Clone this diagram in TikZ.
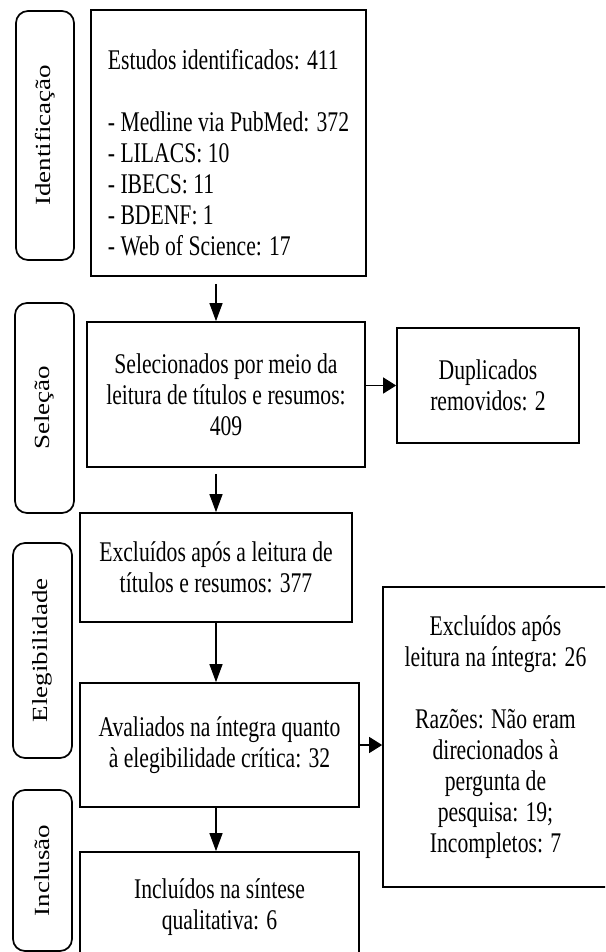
\documentclass[tikz,border=0pt]{standalone}
\usepackage{fontspec}
\setmainfont[FakeStretch=0.76]{Liberation Serif}
\newfontfamily\sidefont[FakeStretch=1.25]{Liberation Serif}
\usetikzlibrary{arrows.meta}
\tikzset{
	box/.style={draw, line width=1.7pt, align=center, inner sep=0pt, font=\fontsize{28.5}{31}\selectfont},
	sidebox/.style={draw, line width=1.7pt, rounded corners=12pt, rotate=90, inner sep=0pt, font=\sidefont\fontsize{21.6}{26}\selectfont},
	downarrow/.style={line width=1.2pt, -{Triangle[length=18pt,width=13pt]}},
	rightarrow/.style={line width=1.3pt, -{Triangle[length=13pt,width=16pt]}}
}

\begin{document}
\begin{tikzpicture}[x=1pt, y=-1pt]
			%%%%% START %%%%%
			\useasboundingbox (0,0) rectangle (605,952);
			\clip (0,0) rectangle (605,952);
			
			\node[sidebox, minimum width=249, minimum height=58] (ident) at (45,135.5) {Identificação};
			\node[box, align=left, minimum width=275, minimum height=266] (estudos) at (228.5,143) {\rule{0pt}{39pt}Estudos identificados: 411\\[31pt]- Medline via PubMed: 372\\- LILACS: 10\\- IBECS: 11\\- BDENF: 1\\- Web of Science: 17};
			
			\node[sidebox, minimum width=210, minimum height=59] (selside) at (44.5,408) {Seleção};
			\node[box, minimum width=278, minimum height=145] (selec) at (226,394.5) {Selecionados por meio da\\leitura de títulos e resumos:\\409};
			\node[box, minimum width=182, minimum height=115] (dupl) at (488,385.5) {Duplicados\\removidos: 2};
			
			\node[sidebox, minimum width=215, minimum height=59] (elegside) at (42.5,650.5) {Elegibilidade};
			\node[box, minimum width=272, minimum height=109] (exclA) at (216,567.5) {Excluídos após a leitura de\\títulos e resumos: 377};
			\node[box, minimum width=279, minimum height=124] (aval) at (219.5,745) {Avaliados na íntegra quanto\\à elegibilidade crítica: 32};
			\node[box, minimum width=225, minimum height=300] (exclB) at (495.5,737) {Excluídos após\\leitura na íntegra: 26\\[31pt]Razões: Não eram\\direcionados à\\pergunta de\\pesquisa: 19;\\Incompletos: 7};
			
			\node[sidebox, minimum width=161, minimum height=59] (inclside) at (42.5,870.5) {Inclusão};
			\node[box, minimum width=279, minimum height=110] (incl) at (219.5,907) {Incluídos na síntese\\qualitativa: 6};
			
			\draw[downarrow, shorten <=7pt] (estudos.south -| exclA.north) -- (selec.north -| exclA.north);
			\draw[downarrow, shorten <=6pt] (selec.south -| exclA.north) -- (exclA.north);
			\draw[downarrow] (exclA.south) -- (aval.north -| exclA.south);
			\draw[downarrow] (aval.south -| exclA.south) -- (incl.north -| exclA.south);
			
			\draw[rightarrow] (selec.east |- dupl.west) -- (dupl.west);
			\draw[rightarrow] (aval.east) -- (aval.east -| exclB.west);
			%%%%% END %%%%%
\end{tikzpicture}
\end{document}
